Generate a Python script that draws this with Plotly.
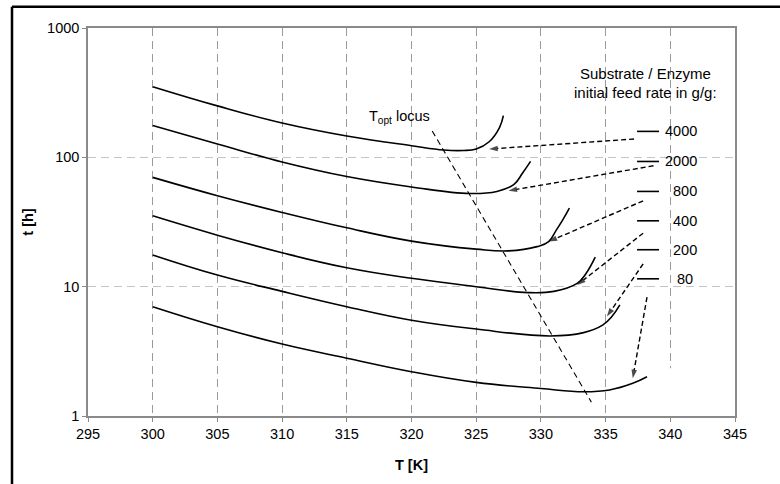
import math
import plotly.graph_objects as go

# ---------------- data ----------------
T_4000 = [300, 305, 310, 315, 320, 322.5, 324, 325, 326, 326.8, 327.1]
t_4000 = [352, 250, 184, 146, 123, 114, 113, 116, 132, 170, 210]

T_2000 = [300, 305, 310, 315, 320, 324.5, 326.6, 327.9, 328.6, 329.2]
t_2000 = [176, 127, 92, 71, 59, 52.5, 54.5, 61.5, 76, 93]

T_800 = [300, 305, 310, 315, 320, 325, 327.5, 329.7, 330.6, 331.2, 331.7, 332.2]
t_800 = [70, 50.5, 37.5, 28.5, 22.5, 19.5, 18.9, 20.4, 22.3, 27.5, 33, 40.5]

T_400 = [300, 305, 310, 315, 320, 325, 329, 331, 332.8, 333.5, 334.2]
t_400 = [35.3, 25, 18.3, 14, 11.6, 10, 9, 9.2, 10.6, 12.7, 16.9]

T_200 = [300, 305, 310, 315, 320, 325, 330.7, 333.3, 334.8, 335.5, 336.1]
t_200 = [17.6, 12.3, 9.2, 7.0, 5.5, 4.7, 4.16, 4.41, 5.06, 5.9, 7.23]

T_80 = [300, 305, 310, 315, 320, 325, 330, 333.3, 335.3, 337.1, 338.2]
t_80 = [7.0, 4.9, 3.6, 2.8, 2.2, 1.82, 1.63, 1.54, 1.59, 1.79, 2.01]

curves = [(T_4000, t_4000), (T_2000, t_2000), (T_800, t_800),
          (T_400, t_400), (T_200, t_200), (T_80, t_80)]

# T_opt locus line
locus_T = [321.6, 333.9]
locus_t = [160, 1.28]

# legend (feed rates)
feed_labels = ["4000", "2000", "800", "400", "200", "80"]
legend_t = [158.7, 92.9, 54.5, 32.3, 19.3, 11.5]
legend_line_T = [337.43, 339.13]
label_T = [339.4, 339.4, 340.06, 340.06, 340.06, 340.37]

# arrows: start (near legend) -> tip (on curve)
arrow_start_T = [337.2, 338.7, 337.9, 337.9, 337.9, 338.2]
arrow_start_t = [138.6, 86.1, 46.1, 25.9, 15.0, 8.29]
arrow_tip_T = [326.0, 327.5, 330.6, 332.8, 335.1, 337.1]
arrow_tip_t = [115.9, 55.1, 22.3, 10.3, 5.87, 1.96]

x_ticks = [295, 300, 305, 310, 315, 320, 325, 330, 335, 340, 345]
y_ticks = [1, 10, 100, 1000]

# ---------------- layout constants ----------------
W, H = 780, 484
ML, MR, MT, MB = 88, 45, 28, 68
PW, PH = W - ML - MR, H - MT - MB
FONT = "Liberation Sans, Arial, sans-serif"
FS = 14.5
lg = math.log10

fig = go.Figure()

for Tx, ty in curves:
    fig.add_trace(go.Scatter(x=Tx, y=ty, mode="lines",
                             line=dict(color="black", width=1.6, shape="spline", smoothing=1.2),
                             hoverinfo="skip", showlegend=False))

fig.add_trace(go.Scatter(x=locus_T, y=locus_t, mode="lines",
                         line=dict(color="black", width=1.1, dash="6px,4px"),
                         hoverinfo="skip", showlegend=False))

for i in range(len(arrow_tip_T)):
    fig.add_trace(go.Scatter(
        x=[arrow_start_T[i], arrow_tip_T[i]], y=[arrow_start_t[i], arrow_tip_t[i]],
        mode="lines+markers",
        line=dict(color="black", width=1.4, dash="5px,3px"),
        marker=dict(symbol="arrow", size=[0, 9], angleref="previous", color="black",
                    line=dict(width=0)),
        hoverinfo="skip", showlegend=False))

for i, lab in enumerate(feed_labels):
    fig.add_trace(go.Scatter(x=legend_line_T, y=[legend_t[i], legend_t[i]], mode="lines",
                             line=dict(color="black", width=1.6),
                             hoverinfo="skip", showlegend=False))
    fig.add_annotation(x=label_T[i], y=lg(legend_t[i]), text=lab, showarrow=False,
                       xanchor="left", yanchor="middle",
                       font=dict(size=FS, color="black", family=FONT))

fig.add_annotation(x=338.05, y=lg(443), text="Substrate / Enzyme", showarrow=False,
                   xanchor="center", yanchor="middle", font=dict(size=15, color="black", family=FONT))
fig.add_annotation(x=338.05, y=lg(316), text="initial feed rate in g/g:", showarrow=False,
                   xanchor="center", yanchor="middle", font=dict(size=15, color="black", family=FONT))
fig.add_annotation(x=319.1, y=lg(205), text="T<sub>opt</sub> locus", showarrow=False,
                   xanchor="center", yanchor="middle", font=dict(size=FS, color="black", family=FONT))

# white legend background (hides grid lines)
fig.add_shape(type="rect", xref="x", yref="y", x0=337.4, x1=342.5, y0=lg(6.38), y1=lg(221),
              fillcolor="white", line=dict(width=0), layer="between")

# outer black frame (top and left edges visible)
fx0 = (12 - ML) / PW
fy_top = (H - MB - 6.7) / PH
fy_bot = (H - MB - H) / PH
fx1 = (W - ML) / PW
fig.add_shape(type="line", xref="paper", yref="paper", x0=fx0, x1=fx1, y0=fy_top, y1=fy_top,
              line=dict(color="black", width=2.5))
fig.add_shape(type="line", xref="paper", yref="paper", x0=fx0, x1=fx0, y0=fy_bot, y1=fy_top,
              line=dict(color="black", width=2.5))

fig.update_layout(
    width=W, height=H,
    margin=dict(l=ML, r=MR, t=MT, b=MB, pad=0),
    paper_bgcolor="white", plot_bgcolor="white",
    font=dict(family=FONT, size=FS, color="black"),
    showlegend=False,
    xaxis=dict(range=[295, 345], tickvals=x_ticks, ticks="outside", ticklen=4,
               tickcolor="#8a8a8a", showline=True, linecolor="#8a8a8a", linewidth=1.5,
               mirror=True, showgrid=True, gridcolor="#9a9a9a", griddash="8px,5px",
               gridwidth=1, zeroline=False,
               tickfont=dict(size=FS, family=FONT, color="black"),
               title=dict(text="<b>T [K]</b>", font=dict(size=FS, family=FONT), standoff=19)),
    yaxis=dict(type="log", range=[0, 3], tickvals=y_ticks, ticktext=[str(v) for v in y_ticks],
               ticks="outside", ticklen=4, tickcolor="#8a8a8a", showline=True,
               linecolor="#8a8a8a", linewidth=1.5, mirror=True, showgrid=True,
               gridcolor="#c4c4c4", griddash="8px,5px", gridwidth=1, zeroline=False,
               tickfont=dict(size=FS, family=FONT, color="black"),
               title=dict(text="<b>t [h]</b>", font=dict(size=FS, family=FONT), standoff=10)),
)

fig.write_html("out.html")
